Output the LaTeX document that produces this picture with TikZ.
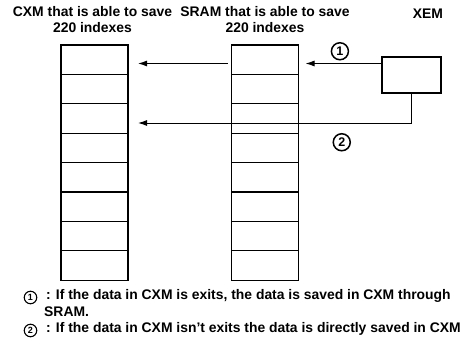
\documentclass[tikz,border=0pt]{standalone}
\usepackage{fontspec}
\setmainfont{Liberation Sans}
\usepackage{tikz}
\usetikzlibrary{arrows.meta, positioning}
\tikzset{
    cell/.style={rectangle, draw=black, line width=1.1pt, minimum width=67pt, minimum height=29.4pt, inner sep=0pt, outer sep=0pt},
    title/.style={align=center, font=\bfseries\fontsize{13.9}{16}\selectfont},
    arrow/.style={line width=1pt, -{Latex[length=9pt, width=6pt]}},
    num/.style={circle, draw=black, line width=1.5pt, minimum size=17pt, inner sep=0pt, font=\bfseries\fontsize{12.5}{12.5}\selectfont},
    smallnum/.style={circle, draw=black, line width=1.1pt, minimum size=12.5pt, inner sep=0pt, font=\bfseries\fontsize{9}{9}\selectfont},
    note/.style={anchor=west, inner sep=0pt, font=\bfseries\fontsize{13.9}{16}\selectfont}
}
\begin{document}
\begin{tikzpicture}[x=1pt, y=-1pt]
    \useasboundingbox (0,0) rectangle (468,345);
    % Memory columns
    \foreach \i in {1,...,8} {
        \node (cxm\i) [cell] at (94.5, {45+14.7+29.4*(\i-1)}) {};
        \node (sram\i) [cell] at (265, {45+14.7+29.4*(\i-1)}) {};
    }
    \node (xem) [cell, minimum width=59pt, minimum height=36pt] at (411.5,75) {};
    % Titles
    \node (cxmtitle) [title] at (92.5,20) {CXM that is able to save\\220 indexes};
    \node (sramtitle) [title] at (265,20) {SRAM that is able to save\\220 indexes};
    \node (xemtitle) [title] at (428,14) {XEM};
    % Arrows
    \coordinate (in1) at ([yshift=-6.5pt]xem.north west);
    \draw [arrow] (in1) -- ([xshift=7pt]in1 -| sram1.east) node[num, pos=0.55, above=3pt] {1};
    \draw [arrow] ([xshift=-4pt]in1 -| sram1.west) -- ([xshift=10pt]in1 -| cxm1.east);
    \coordinate (in2) at ([yshift=-30pt]xem.south);
    \draw [arrow] (xem.south) -- (in2) -- ([xshift=10pt]in2 -| cxm3.east) node[num, pos=0.255, below=10pt] {2};
    % Notes
    \node (n1) [smallnum] at (30.5,297.5) {1};
    \node (n2) [smallnum] at (30.5,330.5) {2};
    \node (t1) [note] at (46,296) {: If the data in CXM is exits, the data is saved in CXM through};
    \node (t1b) [note] at (44,311.5) {SRAM.};
    \node (t2) [note] at (46,329) {: If the data in CXM isn't exits the data is directly saved in CXM};
\end{tikzpicture}
\end{document}
